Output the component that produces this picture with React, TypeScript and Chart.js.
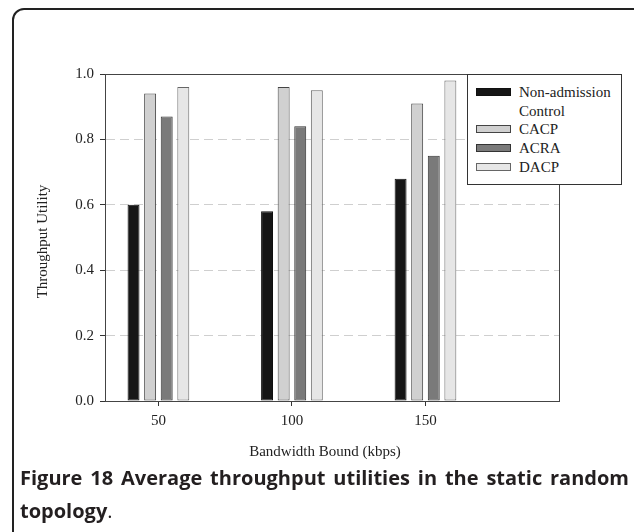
import React, { useEffect, useRef } from "react";
import { Chart, registerables } from "chart.js";

Chart.register(...registerables);

const categories = [50, 100, 150];
const nonAdmission = [0.6, 0.58, 0.68];
const cacp = [0.94, 0.96, 0.91];
const acra = [0.87, 0.84, 0.75];
const dacp = [0.96, 0.95, 0.98];
const seriesLabels = ["Non-admission Control", "CACP", "ACRA", "DACP"];
const seriesValues = [nonAdmission, cacp, acra, dacp];
const seriesColors = ["#161616", "#d0d0d0", "#7a7a7a", "#e6e6e6"];
const seriesBorders = ["#111111", "#444444", "#333333", "#666666"];
const xTickValues = [50, 100, 150];
const yTickValues = [0, 0.2, 0.4, 0.6, 0.8, 1.0];
const xTitle = "Bandwidth Bound (kbps)";
const yTitle = "Throughput Utility";

const serif = "'Liberation Serif', 'Times New Roman', serif";

const framePlugin = {
  id: "frameAndTitles",
  afterDatasetsDraw(chart: any) {
    const { ctx, chartArea } = chart;
    ctx.save();
    ctx.strokeStyle = "#444";
    ctx.lineWidth = 1;
    ctx.setLineDash([]);
    ctx.strokeRect(
      Math.round(chartArea.left) + 0.5,
      Math.round(chartArea.top) + 0.5,
      Math.round(chartArea.right - chartArea.left),
      Math.round(chartArea.bottom - chartArea.top)
    );
    ctx.restore();
  },
  afterDraw(chart: any) {
    const { ctx } = chart;
    ctx.save();
    ctx.fillStyle = "#222";
    ctx.font = `15px ${serif}`;
    ctx.textAlign = "center";
    ctx.textBaseline = "middle";
    ctx.fillText(xTitle, 325, 452);
    ctx.translate(43, 241.5);
    ctx.rotate(-Math.PI / 2);
    ctx.fillText(yTitle, 0, 0);
    ctx.restore();
  },
};

function ChartCanvas() {
  const ref = useRef<HTMLCanvasElement | null>(null);
  useEffect(() => {
    if (!ref.current) return;
    const chart = new Chart(ref.current, {
      type: "bar",
      data: {
        datasets: seriesLabels.map((label, i) => ({
          label,
          data: categories.map((c, j) => ({ x: c, y: seriesValues[i][j] })),
          backgroundColor: seriesColors[i],
          borderColor: seriesBorders[i],
          borderWidth: 1,
          borderSkipped: false,
        })),
      },
      options: {
        animation: false,
        responsive: false,
        maintainAspectRatio: false,
        devicePixelRatio: 1,
        layout: { padding: { top: 74, right: 75, left: 0, bottom: 0 } },
        datasets: { bar: { categoryPercentage: 0.497, barPercentage: 0.72 } } as any,
        plugins: {
          legend: { display: false },
          tooltip: { enabled: false },
        },
        scales: {
          x: {
            type: "linear",
            min: 30,
            max: 200,
            offset: false,
            afterBuildTicks: (s: any) => {
              s.ticks = xTickValues.map((v) => ({ value: v }));
            },
            afterFit: (s: any) => {
              s.height = 69;
            },
            grid: {
              drawOnChartArea: false,
              drawTicks: true,
              tickLength: 5,
              tickColor: "#333",
              color: "#333",
              offset: false,
            },
            border: { display: true, color: "#444", width: 1 },
            ticks: {
              color: "#222",
              font: { family: serif, size: 15 },
              padding: 6,
              maxRotation: 0,
              callback: (v: any) => String(v),
            },
          },
          y: {
            type: "linear",
            min: 0,
            max: 1,
            afterBuildTicks: (s: any) => {
              s.ticks = yTickValues.map((v) => ({ value: v }));
            },
            afterFit: (s: any) => {
              s.width = 105;
            },
            grid: {
              drawTicks: true,
              tickLength: 5,
              tickColor: "#333",
              tickBorderDash: [],
              color: (c: any) =>
                c.tick && (c.tick.value === 0 || c.tick.value === 1)
                  ? "rgba(0,0,0,0)"
                  : "#cfcfcf",
              borderDash: [9, 5],
            } as any,
            border: { display: true, color: "#444", width: 1, dash: [9, 5] } as any,
            ticks: {
              color: "#222",
              font: { family: serif, size: 15 },
              padding: 6,
              callback: (v: any) => Number(v).toFixed(1),
            },
          },
        },
      },
      plugins: [framePlugin],
    });
    return () => chart.destroy();
  }, []);
  return (
    <canvas
      ref={ref}
      width={634}
      height={470}
      style={{ position: "absolute", left: 0, top: 0, width: 634, height: 470 }}
    />
  );
}

function Legend() {
  return (
    <div
      style={{
        position: "absolute",
        left: 467,
        top: 74,
        width: 155,
        height: 111,
        boxSizing: "border-box",
        border: "1px solid #333",
        background: "#fff",
        paddingTop: 8,
        zIndex: 2,
      }}
    >
      {seriesLabels.map((label, i) => (
        <div key={label} style={{ display: "flex", alignItems: "flex-start" }}>
          <div
            style={{
              marginLeft: 8,
              marginTop: 5,
              width: 35,
              height: 8,
              boxSizing: "border-box",
              background: seriesColors[i],
              border: `1px solid ${seriesBorders[i]}`,
              flex: "0 0 auto",
            }}
          />
          <div
            style={{
              marginLeft: 8,
              width: 97,
              fontFamily: serif,
              fontSize: 15,
              lineHeight: "18.7px",
              color: "#222",
            }}
          >
            {label}
          </div>
        </div>
      ))}
    </div>
  );
}

export default function App() {
  return (
    <div
      style={{
        position: "absolute",
        left: 0,
        top: 0,
        width: 634,
        height: 532,
        overflow: "hidden",
        background: "#fff",
      }}
    >
      <div
        style={{
          position: "absolute",
          left: 12,
          top: 8,
          width: 700,
          height: 600,
          border: "2px solid #222",
          borderTopLeftRadius: 12,
        }}
      />
      <ChartCanvas />
      <Legend />
      <div
        style={{
          position: "absolute",
          left: 20,
          top: 461,
          width: 609,
          fontFamily: "'Open Sans', sans-serif",
          fontSize: 20,
          lineHeight: "33px",
          color: "#231f20",
        }}
      >
        <div style={{ fontWeight: 700, textAlign: "justify", textAlignLast: "justify", whiteSpace: "nowrap" }}>
          Figure 18 Average throughput utilities in the static random
        </div>
        <div>
          <span style={{ fontWeight: 700 }}>topology</span>
          <span style={{ fontWeight: 400 }}>.</span>
        </div>
      </div>
    </div>
  );
}
